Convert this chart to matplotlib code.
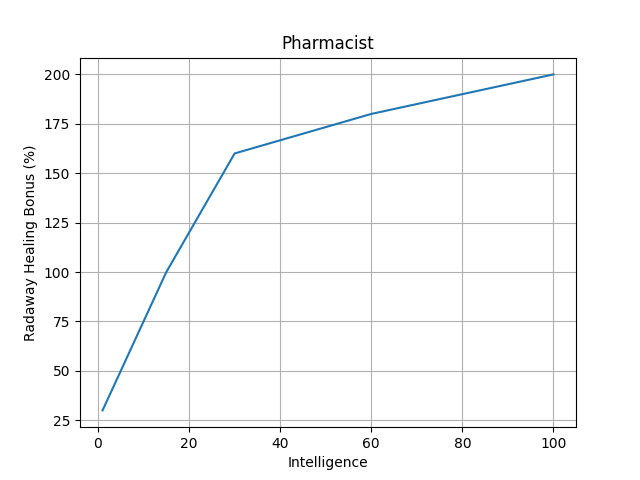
import matplotlib
matplotlib.use("Agg")
import matplotlib.pyplot as plt

# values
intelligence = [1, 15, 30, 60, 100]
healing_bonus = [30, 100, 160, 180, 200]

fig, ax = plt.subplots(figsize=(6.4, 4.8), dpi=100)
ax.plot(intelligence, healing_bonus)
ax.set_title('Pharmacist')
ax.set_xlabel('Intelligence')
ax.set_ylabel('Radaway Healing Bonus (%)')
ax.grid()

fig.savefig('out.png')
